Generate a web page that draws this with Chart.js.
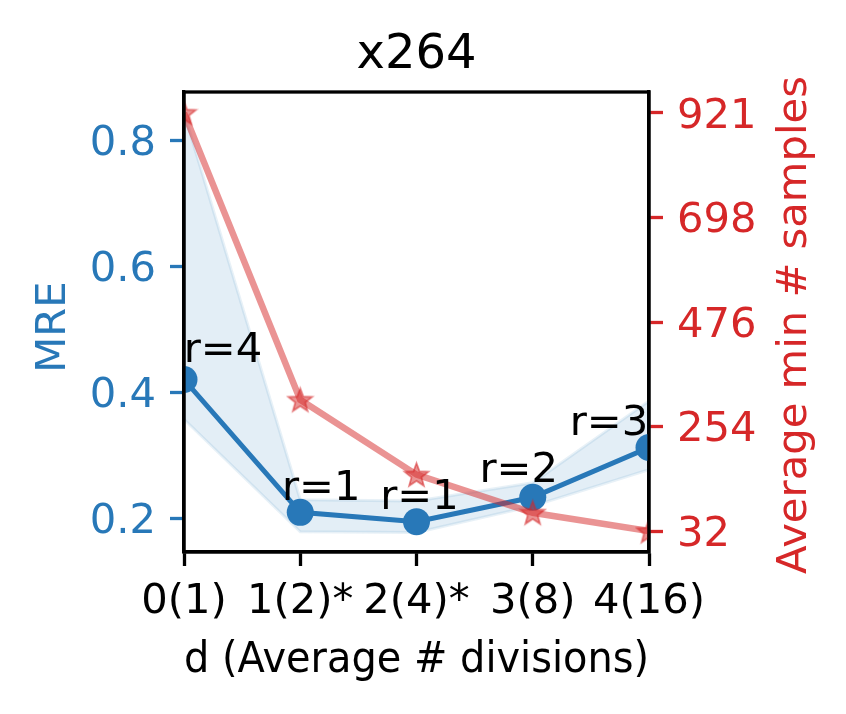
<!DOCTYPE html>
<html>
<head>
<meta charset="utf-8">
<script src="https://cdn.jsdelivr.net/npm/chart.js@4.4.0/dist/chart.umd.min.js"></script>
<style>
  html, body { margin: 0; padding: 0; background: #fff; }
  #wrap { width: 846px; height: 714px; }
</style>
</head>
<body>
<div id="wrap"><canvas id="chart" width="846" height="714"></canvas></div>
<script>
// data
const categories = ['0(1)', '1(2)*', '2(4)*', '3(8)', '4(16)'];
const mre = [0.420, 0.209, 0.194, 0.233, 0.312];
const mreUpper = [0.844, 0.229, 0.227, 0.256, 0.386];
const mreLower = [0.357, 0.178, 0.177, 0.219, 0.277];
const samples = [921, 311, 152, 71, 32];
const rLabels = ['r=4', 'r=1', 'r=1', 'r=2', 'r=3'];
const mreTicks = [0.2, 0.4, 0.6, 0.8];
const sampleTicks = [32, 254.25, 476.5, 698.75, 921];
const sampleTickLabels = ['32', '254', '476', '698', '921'];

// where the r= labels sit relative to their point (px)
const labelOffsets = [[39, -18], [21, -12], [3, -13], [-14, -15], [-40, -13]];

const BLUE = '#2878b8';
const RED = '#d62728';
const FONT = 'DejaVu Sans';
const FS = 41.7;
const LW = 3.3;

Chart.defaults.font.family = FONT;
Chart.defaults.color = '#000';

function makeStar(r) {
  const c = document.createElement('canvas');
  const s = Math.ceil(r * 2 + 4);
  c.width = s; c.height = s;
  const g = c.getContext('2d');
  g.translate(s / 2, s / 2 + r * 0.08);
  g.beginPath();
  for (let i = 0; i < 10; i++) {
    const rad = i % 2 === 0 ? r : r * 0.42;
    const a = -Math.PI / 2 + i * Math.PI / 5;
    const x = Math.cos(a) * rad, y = Math.sin(a) * rad;
    if (i === 0) g.moveTo(x, y); else g.lineTo(x, y);
  }
  g.closePath();
  g.fillStyle = 'rgba(214,39,40,0.5)';
  g.strokeStyle = 'rgba(214,39,40,0.55)';
  g.lineWidth = 1.8;
  g.fill();
  g.stroke();
  return c;
}
const star = makeStar(12.5);

const extras = {
  id: 'extras',
  afterDatasetsDraw(chart) {
    const { ctx, chartArea: a, scales } = chart;
    ctx.save();
    // r= annotations
    ctx.font = FS + 'px "' + FONT + '"';
    ctx.fillStyle = '#000';
    ctx.textAlign = 'center';
    ctx.textBaseline = 'alphabetic';
    rLabels.forEach((t, i) => {
      const x = scales.x.getPixelForValue(i);
      const y = scales.y.getPixelForValue(mre[i]);
      ctx.fillText(t, x + labelOffsets[i][0], y + labelOffsets[i][1]);
    });
    // frame
    ctx.strokeStyle = '#000';
    ctx.lineWidth = LW;
    ctx.strokeRect(a.left, a.top, a.right - a.left, a.bottom - a.top);
    ctx.restore();
  },
  afterDraw(chart) {
    const { ctx, chartArea: a } = chart;
    ctx.save();
    ctx.textAlign = 'center';
    ctx.textBaseline = 'alphabetic';
    ctx.font = '48px "' + FONT + '"';
    ctx.fillStyle = '#000';
    ctx.fillText('x264', (a.left + a.right) / 2, 68);

    ctx.font = FS + 'px "' + FONT + '"';
    ctx.fillStyle = BLUE;
    ctx.translate(65, 327);
    ctx.rotate(-Math.PI / 2);
    ctx.fillText('MRE', 0, 0);
    ctx.restore();

    ctx.save();
    ctx.textAlign = 'center';
    ctx.textBaseline = 'alphabetic';
    ctx.font = FS + 'px "' + FONT + '"';
    ctx.fillStyle = RED;
    ctx.translate(806, 325);
    ctx.rotate(-Math.PI / 2);
    ctx.fillText('Average min # samples', 0, 0);
    ctx.restore();
  }
};

new Chart(document.getElementById('chart'), {
  type: 'line',
  data: {
    labels: categories,
    datasets: [
      {
        label: 'samples',
        data: samples,
        yAxisID: 'y2',
        borderColor: 'rgba(214,39,40,0.5)',
        borderWidth: 6.5,
        pointStyle: star,
        pointRadius: 12,
        order: 0,
        clip: 0
      },
      {
        label: 'MRE',
        data: mre,
        yAxisID: 'y',
        borderColor: BLUE,
        borderWidth: 5,
        pointRadius: 13.5,
        pointBackgroundColor: BLUE,
        pointBorderWidth: 0,
        order: 1,
        clip: 0
      },
      {
        label: 'lower',
        data: mreLower,
        yAxisID: 'y',
        borderColor: 'rgba(31,119,180,0.1)',
        borderWidth: 3,
        pointRadius: 0,
        fill: false,
        order: 3,
        clip: 0
      },
      {
        label: 'upper',
        data: mreUpper,
        yAxisID: 'y',
        borderColor: 'rgba(31,119,180,0.1)',
        borderWidth: 3,
        backgroundColor: 'rgba(31,119,180,0.125)',
        pointRadius: 0,
        fill: '-1',
        order: 2,
        clip: 0
      }
    ]
  },
  options: {
    responsive: false,
    animation: false,
    devicePixelRatio: 1,
    layout: { padding: { top: 92, left: 0, right: 0, bottom: 0 } },
    plugins: {
      legend: { display: false },
      tooltip: { enabled: false },
      title: { display: false }
    },
    scales: {
      x: {
        type: 'category',
        offset: false,
        afterFit: s => { s.height = 162; },
        grid: { drawOnChartArea: false, drawTicks: true, tickLength: 14, tickWidth: LW, tickColor: '#000' },
        border: { display: true, color: '#000', width: LW },
        ticks: { autoSkip: false, maxRotation: 0, padding: 11, color: '#000', font: { size: FS } },
        title: { display: true, text: 'd (Average # divisions)', color: '#000', font: { size: 43 }, padding: { top: 0, bottom: 27 } }
      },
      y: {
        position: 'left',
        min: 0.146,
        max: 0.877,
        afterFit: s => { s.width = 184; },
        afterBuildTicks: s => { s.ticks = mreTicks.map(v => ({ value: v })); },
        grid: { drawOnChartArea: false, drawTicks: true, tickLength: 14, tickWidth: LW, tickColor: BLUE },
        border: { display: true, color: '#000', width: LW },
        ticks: { padding: 14, labelOffset: 4, color: BLUE, font: { size: FS }, callback: v => v.toFixed(1) }
      },
      y2: {
        position: 'right',
        min: -12.45,
        max: 965.45,
        afterFit: s => { s.width = 197; },
        afterBuildTicks: s => { s.ticks = sampleTicks.map(v => ({ value: v })); },
        grid: { drawOnChartArea: false, drawTicks: true, tickLength: 14, tickWidth: LW, tickColor: RED },
        border: { display: true, color: '#000', width: LW },
        ticks: { padding: 14, labelOffset: 4, color: RED, font: { size: FS }, callback: (v, i) => sampleTickLabels[i] }
      }
    }
  },
  plugins: [extras]
});
</script>
</body>
</html>
